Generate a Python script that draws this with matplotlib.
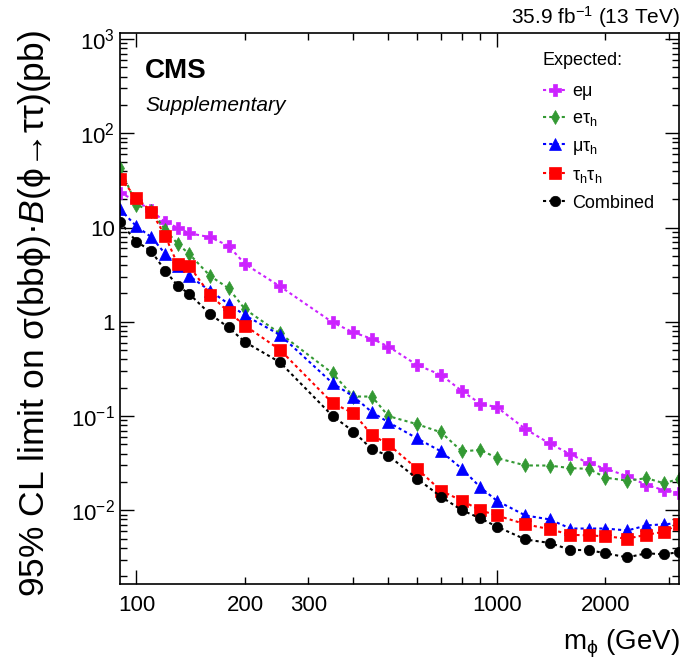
import numpy as np
import matplotlib
matplotlib.use("Agg")
import matplotlib.pyplot as plt
from matplotlib.ticker import FixedLocator, FuncFormatter, NullFormatter, LogLocator

plt.rcParams['font.family'] = ['Liberation Sans', 'DejaVu Sans']
plt.rcParams['mathtext.fontset'] = 'custom'
plt.rcParams['mathtext.rm'] = 'Liberation Sans'
plt.rcParams['mathtext.it'] = 'Liberation Sans:italic'
plt.rcParams['mathtext.bf'] = 'Liberation Sans:bold'
plt.rcParams['mathtext.fallback'] = 'stixsans'

# mass points (GeV)
mass = [90, 100, 110, 120, 130, 140, 160, 180, 200, 250, 350, 400, 450, 500,
        600, 700, 800, 900, 1000, 1200, 1400, 1600, 1800, 2000, 2300, 2600, 2900, 3200]

# expected limits (pb)
lim_em = [23.4, 19.1, 15.2, 11.4, 10.0, 8.7, 7.9, 6.4, 4.1, 2.38, 0.985, 0.77, 0.66, 0.546,
          0.348, 0.273, 0.184, 0.135, 0.124, 0.0728, 0.0511, 0.0393, 0.0314, 0.0277, 0.0230, 0.0185, 0.0164, 0.0154]
lim_et = [43.0, 17.4, 15.0, 9.5, 6.75, 5.25, 3.07, 2.27, 1.36, 0.753, 0.284, 0.161, 0.161, 0.0998,
          0.082, 0.0671, 0.0421, 0.0438, 0.0358, 0.0299, 0.0298, 0.0280, 0.0275, 0.0222, 0.0206, 0.0219, 0.0194, 0.0214]
lim_mt = [15.6, 10.3, 7.9, 5.3, 3.88, 3.07, 2.13, 1.55, 1.17, 0.727, 0.223, 0.161, 0.110, 0.0858,
          0.058, 0.0421, 0.0275, 0.0175, 0.0126, 0.0088, 0.0080, 0.0064, 0.0064, 0.0064, 0.0061, 0.0069, 0.0071, 0.0073]
lim_tt = [33.1, 20.8, 14.7, 8.2, 4.1, 3.93, 1.94, 1.27, 0.91, 0.505, 0.137, 0.107, 0.0630, 0.050,
          0.0277, 0.0161, 0.0126, 0.0100, 0.0088, 0.0071, 0.0063, 0.0055, 0.0054, 0.0053, 0.0050, 0.0055, 0.0059, 0.0071]
lim_comb = [11.4, 7.1, 5.6, 3.5, 2.42, 1.98, 1.21, 0.87, 0.61, 0.372, 0.100, 0.0685, 0.0443, 0.038,
            0.0217, 0.0139, 0.0100, 0.0082, 0.0067, 0.0049, 0.0045, 0.0038, 0.00377, 0.0035, 0.00316, 0.0035, 0.0034, 0.0036]

labels = ["eμ", "eτ$_{\\rm h}$", "μτ$_{\\rm h}$", "τ$_{\\rm h}$τ$_{\\rm h}$", "Combined"]

x_major = [100, 1000]
x_minor = [200, 300, 400, 500, 600, 700, 800, 900, 2000, 3000]
x_minor_labels = [200, 300, 2000]

fig = plt.figure(figsize=(6.83, 6.59), dpi=100)
ax = fig.add_axes([120 / 683, 1 - 584 / 659, (679 - 120) / 683, (584 - 33) / 659])

series = [
    (lim_em, "#CC22FF", "P", 8.5),
    (lim_et, "#339933", "d", 7.0),
    (lim_mt, "#0000FF", "^", 8.5),
    (lim_tt, "#FF0000", "s", 8.0),
    (lim_comb, "black", "o", 7.5),
]
for (y, c, m, ms), lab in zip(series, labels):
    ax.plot(mass, y, color=c, marker=m, markersize=ms, markeredgewidth=0.5,
            linestyle=(0, (1.5, 1.5)), linewidth=1.5, label=lab)

ax.set_xscale("log")
ax.set_yscale("log")
ax.set_xlim(90, 3200)
ax.set_ylim(1.65e-3, 1.16e3)

ax.xaxis.set_major_locator(FixedLocator(x_major))
ax.xaxis.set_minor_locator(FixedLocator(x_minor))
ax.xaxis.set_major_formatter(FuncFormatter(lambda v, p: "%d" % v))
ax.xaxis.set_minor_formatter(FuncFormatter(lambda v, p: "%d" % v if int(round(v)) in x_minor_labels else ""))


def yfmt(v, p):
    e = int(round(np.log10(v)))
    if e == 0:
        return "1"
    if e == 1:
        return "10"
    return r"$10^{%d}$" % e


ax.yaxis.set_major_locator(LogLocator(base=10, numticks=20))
ax.yaxis.set_minor_locator(LogLocator(base=10, subs=np.arange(2, 10), numticks=20))
ax.yaxis.set_major_formatter(FuncFormatter(yfmt))
ax.yaxis.set_minor_formatter(NullFormatter())

ax.tick_params(which="both", direction="in", top=True, right=True, labelsize=16)
ax.tick_params(which="major", length=10, width=1)
ax.tick_params(which="minor", length=5, width=1)
ax.tick_params(axis="x", which="both", pad=8)
for s in ax.spines.values():
    s.set_linewidth(1.2)

leg = ax.legend(loc="upper left", bbox_to_anchor=((543 - 120) / 559, (584 - 52) / 551),
                frameon=False, fontsize=13, title="Expected:", title_fontsize=13,
                alignment="left", handlelength=1.3, handletextpad=0.3,
                labelspacing=0.55, borderpad=0, borderaxespad=0)
leg._legend_box.sep = 10

ax.text(0.045, 0.955, "CMS", transform=ax.transAxes, fontsize=20, fontweight="bold",
        ha="left", va="top")
ax.text(0.045, 0.885, "Supplementary", transform=ax.transAxes, fontsize=15, style="italic",
        ha="left", va="top")

fig.text(680 / 683, 1 - 24 / 659, r"35.9 fb$^{-1}$ (13 TeV)", fontsize=15, ha="right", va="baseline")
fig.text(680 / 683, 1 - 650 / 659, r"m$_{\rm ϕ}$ (GeV)", fontsize=20, ha="right", va="baseline")
fig.text(35 / 683, 1 - 30 / 659,
         "95% CL limit on σ(bbϕ)·$\\mathit{B}$(ϕ→ττ)(pb)",
         fontsize=25.5, rotation=90, ha="center", va="top")

fig.savefig("out.png", dpi=100)
